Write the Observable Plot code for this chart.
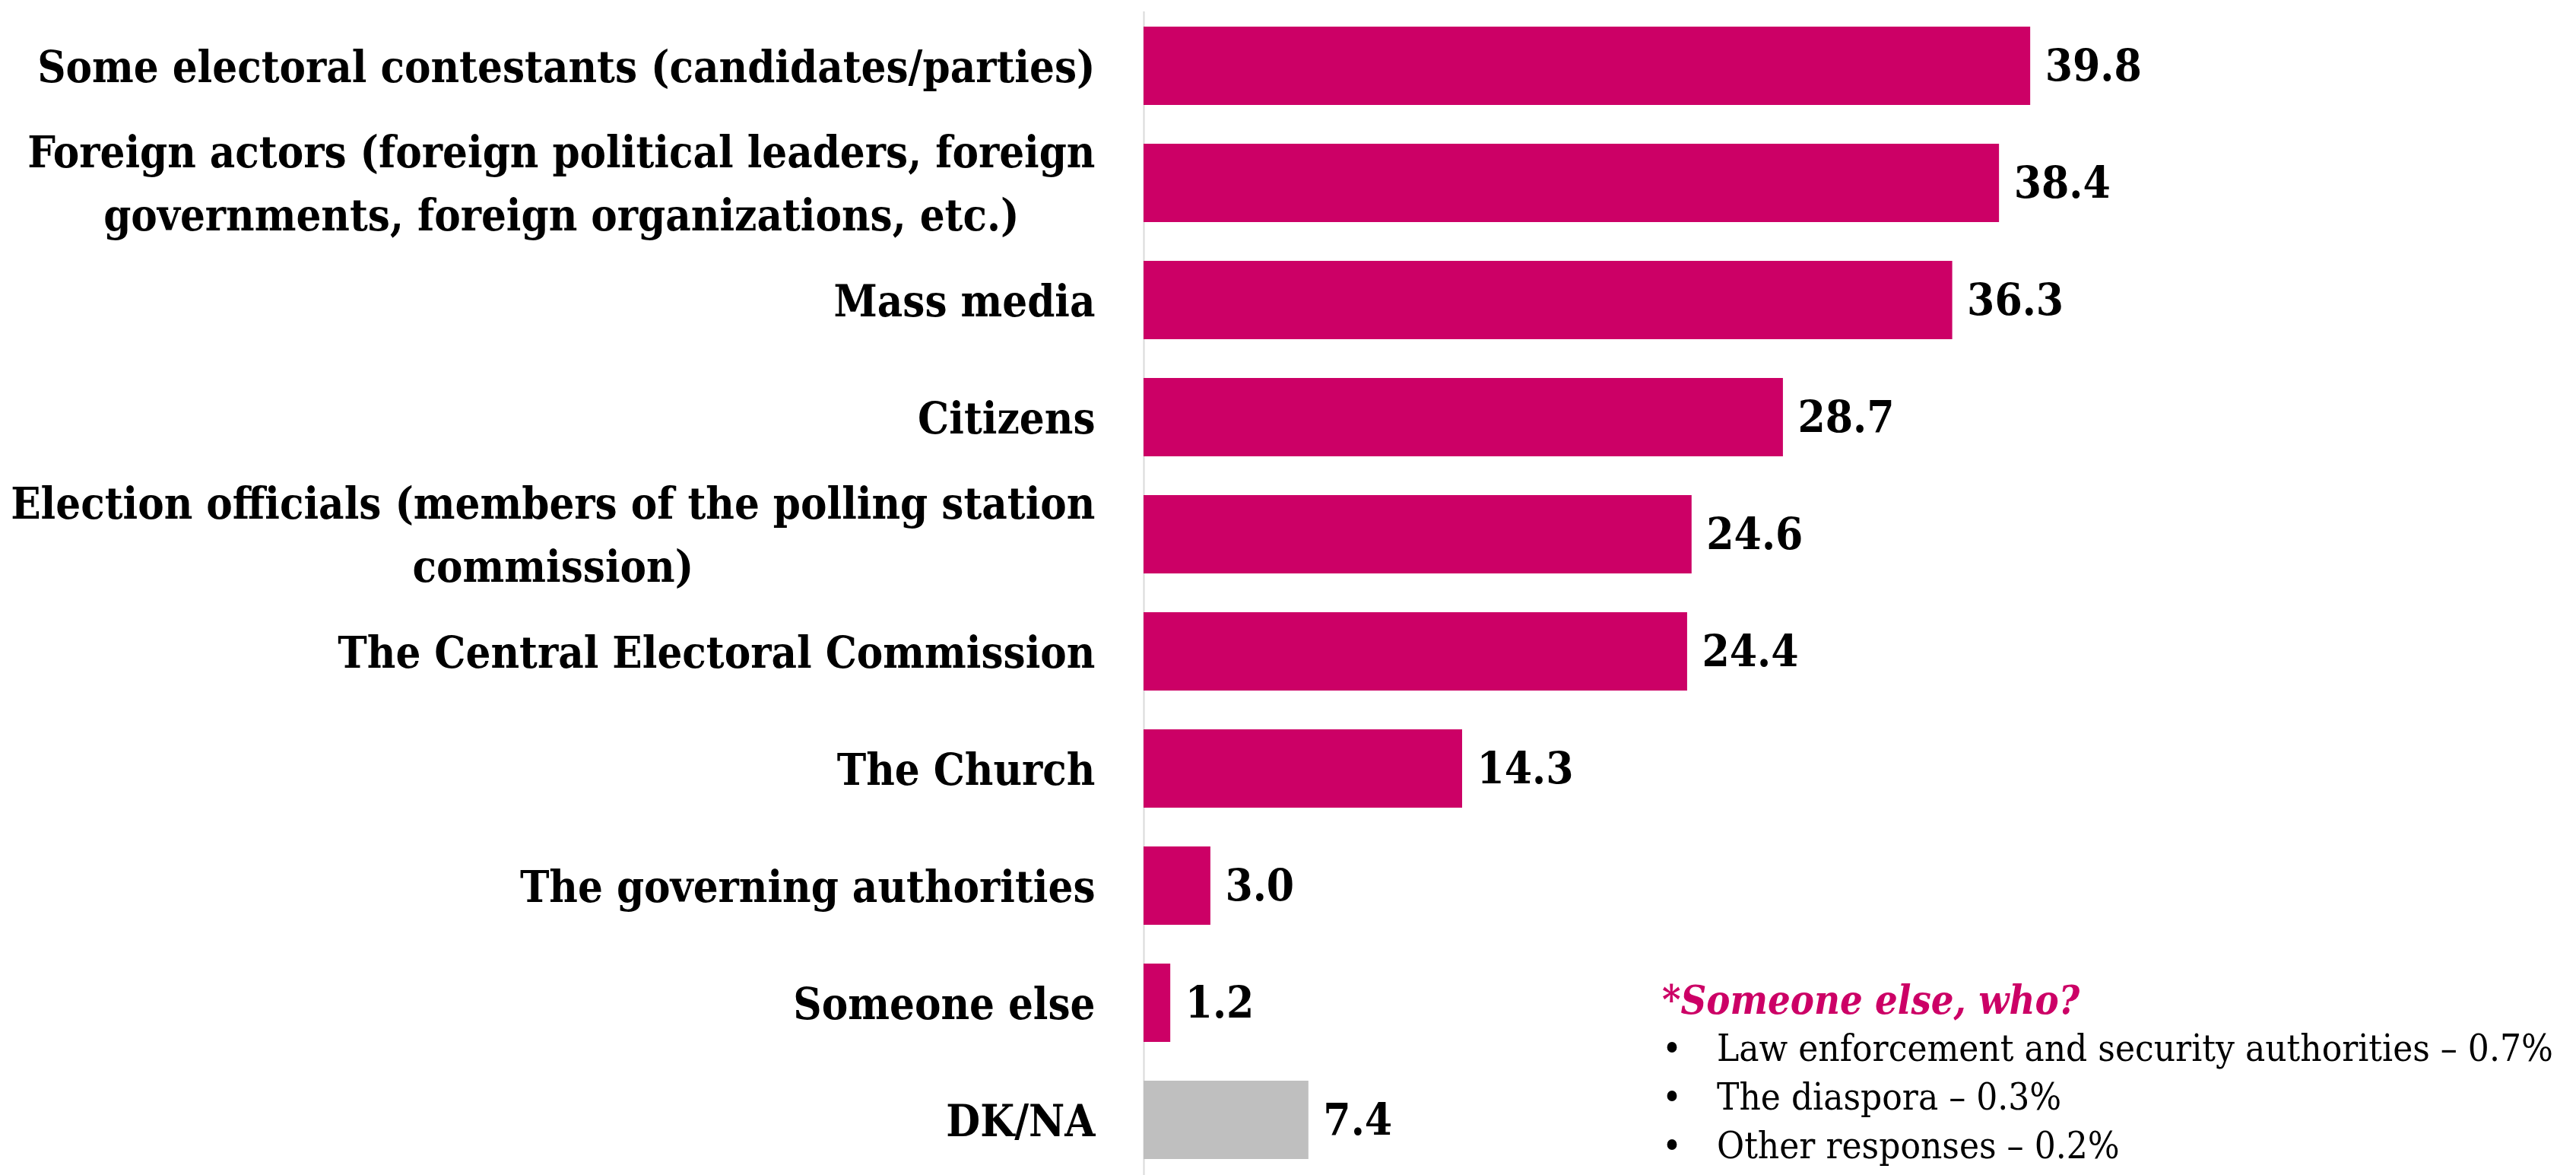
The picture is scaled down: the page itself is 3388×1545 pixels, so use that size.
<!DOCTYPE html>
<html>
<head>
<meta charset="utf-8">
<script src="https://cdn.jsdelivr.net/npm/d3@7"></script>
<script src="https://cdn.jsdelivr.net/npm/@observablehq/plot@0.6"></script>
<style>
  html, body { margin: 0; padding: 0; background: #fff; }
  #wrap { position: relative; width: 3388px; height: 1545px; color: #000; }
  #wrap svg { font-stretch: condensed; }
  #note { position: absolute; left: 2186px; top: 1283px; font-family: "DejaVu Serif Condensed", "DejaVu Serif", serif; font-stretch: condensed; line-height: 64px; color: #000; }
  #note .title { font-size: 52px; font-weight: bold; font-style: italic; color: #CC0066; }
  #note .item { font-size: 49px; display: flex; }
  #note .bullet { width: 72px; }
</style>
</head>
<body>
<div id="wrap"></div>
<script>
const categories = [
  "Some electoral contestants (candidates/parties)",
  "Foreign actors (foreign political leaders, foreign\ngovernments, foreign organizations, etc.)",
  "Mass media",
  "Citizens",
  "Election officials (members of the polling station\ncommission)",
  "The Central Electoral Commission",
  "The Church",
  "The governing authorities",
  "Someone else",
  "DK/NA"
];
const values = [39.8, 38.4, 36.3, 28.7, 24.6, 24.4, 14.3, 3.0, 1.2, 7.4];
const groups = ["answer", "answer", "answer", "answer", "answer", "answer", "answer", "answer", "answer", "dkna"];
const noteTitle = "*Someone else, who?";
const noteItems = [
  "Law enforcement and security authorities – 0.7%",
  "The diaspora – 0.3%",
  "Other responses – 0.2%"
];

const data = categories.map((c, i) => ({category: c, value: values[i], group: groups[i]}));

const chart = Plot.plot({
  width: 3388,
  height: 1545,
  marginLeft: 1504,
  marginRight: 0,
  marginTop: 15,
  marginBottom: 0,
  style: {fontFamily: "'DejaVu Serif Condensed', 'DejaVu Serif', serif", background: "white", color: "black"},
  x: {domain: [0, 64.3], axis: null},
  y: {domain: categories, paddingInner: 0.33, paddingOuter: 0.12, label: null, axis: null},
  color: {domain: ["answer", "dkna"], range: ["#CC0066", "#BFBFBF"]},
  marks: [
    Plot.ruleX([0], {stroke: "#d9d9d9", strokeWidth: 2}),
    Plot.barX(data, {x: "value", y: "category", fill: "group"}),
    Plot.text(data, {x: "value", y: "category", text: d => d.value.toFixed(1), dx: 19, textAnchor: "start", fontSize: 58, fontWeight: "bold", fill: "black"}),
    Plot.axisY({tickSize: 0, tickPadding: 64, dy: -6, fontSize: 57.5, fontWeight: "bold", lineHeight: 1.45, label: null, fill: "black"})
  ]
});

document.getElementById("wrap").appendChild(chart);

// center multi-line category labels within their right-aligned block
chart.querySelectorAll('g[aria-label="y-axis tick label"] text').forEach(t => {
  const spans = t.querySelectorAll("tspan");
  if (spans.length > 1) {
    const w = t.getBBox().width;
    t.setAttribute("text-anchor", "middle");
    spans.forEach(s => s.setAttribute("x", -w / 2));
  }
});

const note = document.createElement("div");
note.id = "note";
const title = document.createElement("div");
title.className = "title";
title.textContent = noteTitle;
note.appendChild(title);
noteItems.forEach(txt => {
  const row = document.createElement("div");
  row.className = "item";
  const b = document.createElement("span");
  b.className = "bullet";
  b.textContent = "•";
  const s = document.createElement("span");
  s.textContent = txt;
  row.appendChild(b);
  row.appendChild(s);
  note.appendChild(row);
});
document.getElementById("wrap").appendChild(note);
</script>
</body>
</html>
